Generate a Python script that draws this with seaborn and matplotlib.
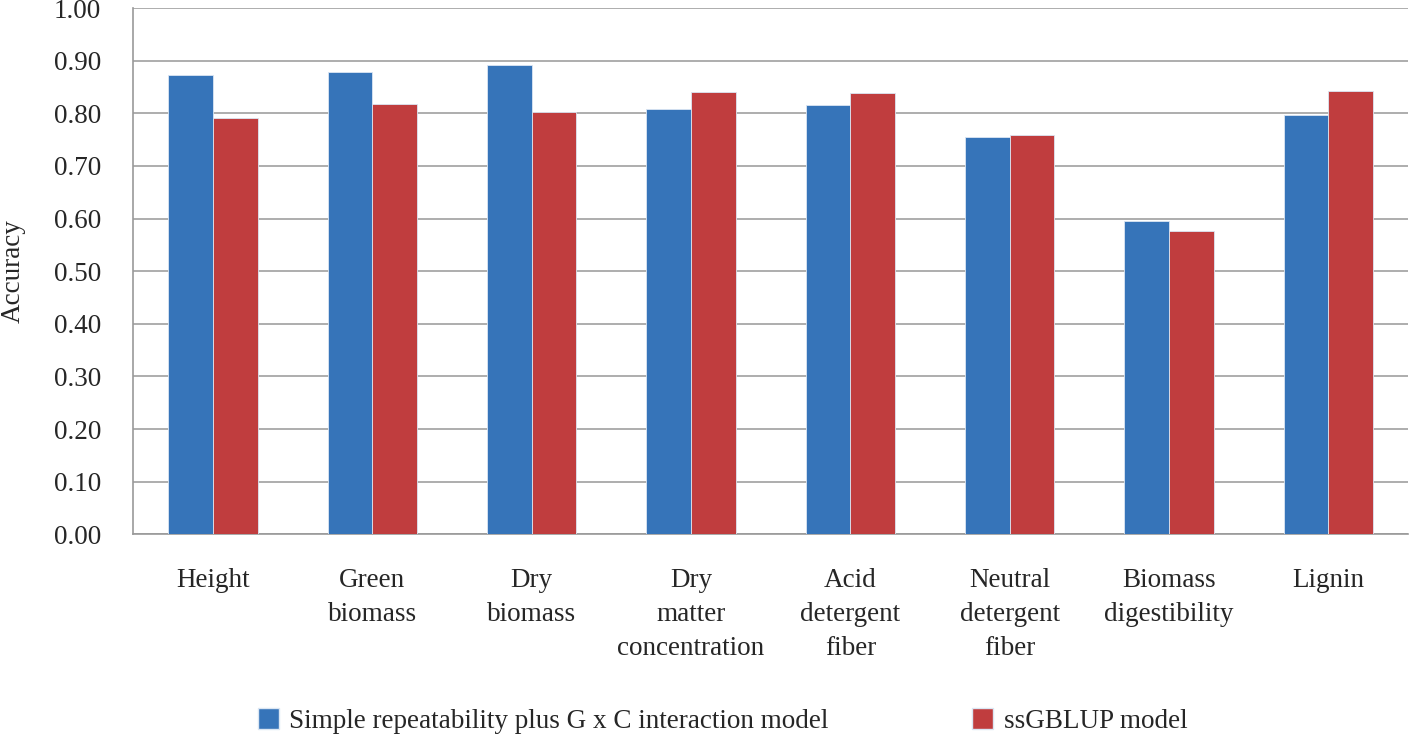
import pandas as pd
import seaborn as sns
import matplotlib.pyplot as plt
from matplotlib.patches import Patch
from matplotlib.ticker import FixedLocator

categories = ["Height", "Green\nbiomass", "Dry\nbiomass", "Dry\nmatter\nconcentration",
              "Acid\ndetergent\nfiber", "Neutral\ndetergent\nfiber", "Biomass\ndigestibility", "Lignin"]
models = ["Simple repeatability plus G x C interaction model", "ssGBLUP model"]
simple_gxc = [0.873, 0.879, 0.891, 0.808, 0.816, 0.756, 0.595, 0.796]
ssgblup = [0.791, 0.818, 0.802, 0.840, 0.838, 0.759, 0.577, 0.843]
y_ticks = [0.0, 0.1, 0.2, 0.3, 0.4, 0.5, 0.6, 0.7, 0.8, 0.9, 1.0]

data = pd.DataFrame({
    "trait": categories * 2,
    "model": [models[0]] * len(categories) + [models[1]] * len(categories),
    "accuracy": simple_gxc + ssgblup,
})

sns.set_style("white")
plt.rcParams["font.family"] = ["Liberation Serif", "DejaVu Serif"]

my_pal = {models[0]: "#3674B9", models[1]: "#C03D3E"}
fs = 19.5

f, ax = plt.subplots(figsize=(14.18, 7.37), dpi=100)
f.subplots_adjust(left=0.094, right=0.993, top=0.989, bottom=0.275)

sns.barplot(data=data, x="trait", y="accuracy", hue="model", palette=my_pal,
            width=0.56, saturation=1, ax=ax, legend=False, zorder=3,
            edgecolor="#dbe6f3", linewidth=0.6)

ax.set_ylim(0, 1.0)
ax.set_xlim(-0.5, len(categories) - 0.5)
ax.set_yticks(y_ticks)
ax.set_yticklabels([f"{v:.2f}" for v in y_ticks], fontsize=fs)
ax.yaxis.grid(True, color="#a0a0a0", linewidth=1.2, zorder=0)
ax.set_axisbelow(True)

ax.set_xticks(range(len(categories)))
ax.set_xticklabels(categories, fontsize=fs, linespacing=1.48, va="top")
ax.tick_params(axis="x", which="major", length=0, pad=24)
ax.xaxis.set_minor_locator(FixedLocator([i + 0.5 for i in range(-1, len(categories))]))
ax.tick_params(axis="x", which="minor", length=8, color="#888888", width=1)
ax.tick_params(axis="y", length=9, color="#888888", width=1, pad=14)

ax.set_xlabel("")
ax.set_ylabel("Accuracy", fontsize=fs, labelpad=20)

for side in ["top", "right"]:
    ax.spines[side].set_visible(False)
for side in ["left", "bottom"]:
    ax.spines[side].set_color("#999999")
    ax.spines[side].set_linewidth(1.2)

handles = [Patch(facecolor=my_pal[m], edgecolor="#dbe6f3") for m in models]
f.legend(handles=handles, labels=models, loc="center left", bbox_to_anchor=(0.182, 0.022),
         ncol=2, frameon=False, fontsize=fs, columnspacing=5.3, handlelength=0.76,
         handleheight=0.8, handletextpad=0.4, borderpad=0, borderaxespad=0)

f.savefig("out.png", dpi=100)
